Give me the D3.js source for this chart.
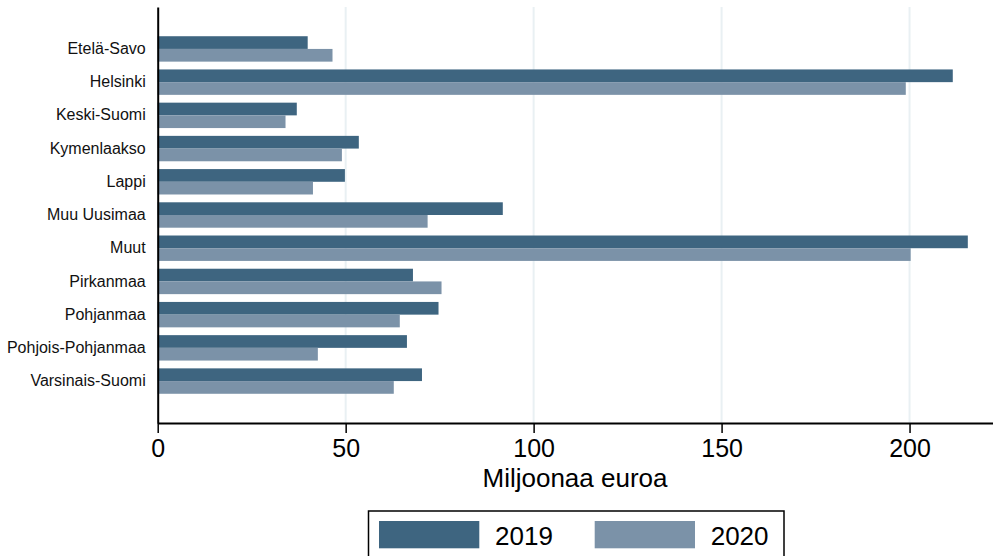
<!DOCTYPE html>
<html lang="fi">
<head>
	<meta charset="UTF-8">
	<title>Miljoonaa euroa</title>
	<style>
		body { margin: 0; background: #fff; }
		svg { display: block; font-family: "Liberation Sans", Arial, sans-serif; }
	</style>
</head>
<body>
	<svg id="cont" width="993" height="556"></svg>
</body>
<script src="https://cdn.jsdelivr.net/npm/d3@7"></script>
<script>
	// data
	let regions = ["Etelä-Savo", "Helsinki", "Keski-Suomi", "Kymenlaakso", "Lappi", "Muu Uusimaa",
		"Muut", "Pirkanmaa", "Pohjanmaa", "Pohjois-Pohjanmaa", "Varsinais-Suomi"];
	let years = ["2019", "2020"];
	let values2019 = [39.9, 211.5, 37.0, 53.5, 49.8, 91.8, 215.5, 67.9, 74.7, 66.3, 70.3];
	let values2020 = [46.5, 199.0, 34.0, 49.0, 41.3, 71.8, 200.3, 75.5, 64.4, 42.6, 62.8];
	let xTicks = [0, 50, 100, 150, 200];
	let colors = ["#3e6580", "#7b92a8"];

	let svg = d3.select("#cont");

	let rows = regions.map((r, i) => ({ region: r, vals: [values2019[i], values2020[i]] }));

	let x = d3.scaleLinear()
		.domain([0, 222.2])
		.range([157.7, 993]);

	let y = d3.scaleBand()
		.domain(regions)
		.range([7, 423])
		.paddingInner(0.235)
		.paddingOuter(0.88);

	let ySub = d3.scaleBand()
		.domain(years)
		.range([0, y.bandwidth()]);

	let color = d3.scaleOrdinal().domain(years).range(colors);

	// grid
	svg.append("g")
		.selectAll("line")
		.data(xTicks.filter(d => d > 0))
		.join("line")
		.attr("x1", d => x(d))
		.attr("x2", d => x(d))
		.attr("y1", 7)
		.attr("y2", 423)
		.attr("stroke", "#e9f0f3")
		.attr("stroke-width", 2);

	// bars
	let groups = svg.append("g")
		.selectAll("g")
		.data(rows)
		.join("g")
		.attr("transform", d => "translate(0," + y(d.region) + ")");

	groups.selectAll("rect")
		.data(d => d.vals.map((v, i) => ({ year: years[i], v: v })))
		.join("rect")
		.attr("x", x(0))
		.attr("y", d => ySub(d.year))
		.attr("width", d => x(d.v) - x(0))
		.attr("height", ySub.bandwidth())
		.attr("fill", d => color(d.year));

	// axes
	let xaxis = d3.axisBottom(x)
		.tickValues(xTicks)
		.tickSize(10)
		.tickSizeOuter(0)
		.tickPadding(6);
	let gx = svg.append("g")
		.attr("transform", "translate(0,423)")
		.call(xaxis);
	gx.select(".domain").attr("stroke", "#000").attr("stroke-width", 2);
	gx.selectAll(".tick line").attr("stroke", "#000").attr("stroke-width", 1.5);
	gx.selectAll("text")
		.attr("fill", "#000")
		.style("font-size", "25px")
		.style("font-family", "Liberation Sans, Arial, sans-serif");

	let yaxis = d3.axisLeft(y)
		.tickSize(0)
		.tickSizeOuter(0)
		.tickPadding(12);
	let gy = svg.append("g")
		.attr("transform", "translate(157.7,0)")
		.call(yaxis);
	gy.select(".domain").attr("stroke", "#000").attr("stroke-width", 2);
	gy.selectAll("text")
		.attr("fill", "#111")
		.style("font-size", "16px")
		.style("font-family", "Liberation Sans, Arial, sans-serif");

	svg.append("text")
		.attr("x", 575)
		.attr("y", 487)
		.attr("text-anchor", "middle")
		.style("font-size", "26px")
		.attr("fill", "#000")
		.text("Miljoonaa euroa");

	// legend
	let legend = svg.append("g");
	legend.append("rect")
		.attr("x", 368.5)
		.attr("y", 511)
		.attr("width", 415.5)
		.attr("height", 60)
		.attr("fill", "#fff")
		.attr("stroke", "#000")
		.attr("stroke-width", 1.5);

	let items = legend.selectAll("g.item")
		.data(years)
		.join("g")
		.attr("class", "item")
		.attr("transform", (d, i) => "translate(" + (379 + i * 215.7) + ",521)");
	items.append("rect")
		.attr("width", 100.3)
		.attr("height", 27.3)
		.attr("fill", d => color(d));
	items.append("text")
		.attr("x", 116)
		.attr("y", 24)
		.style("font-size", "26px")
		.attr("fill", "#000")
		.text(d => d);
</script>
</html>
